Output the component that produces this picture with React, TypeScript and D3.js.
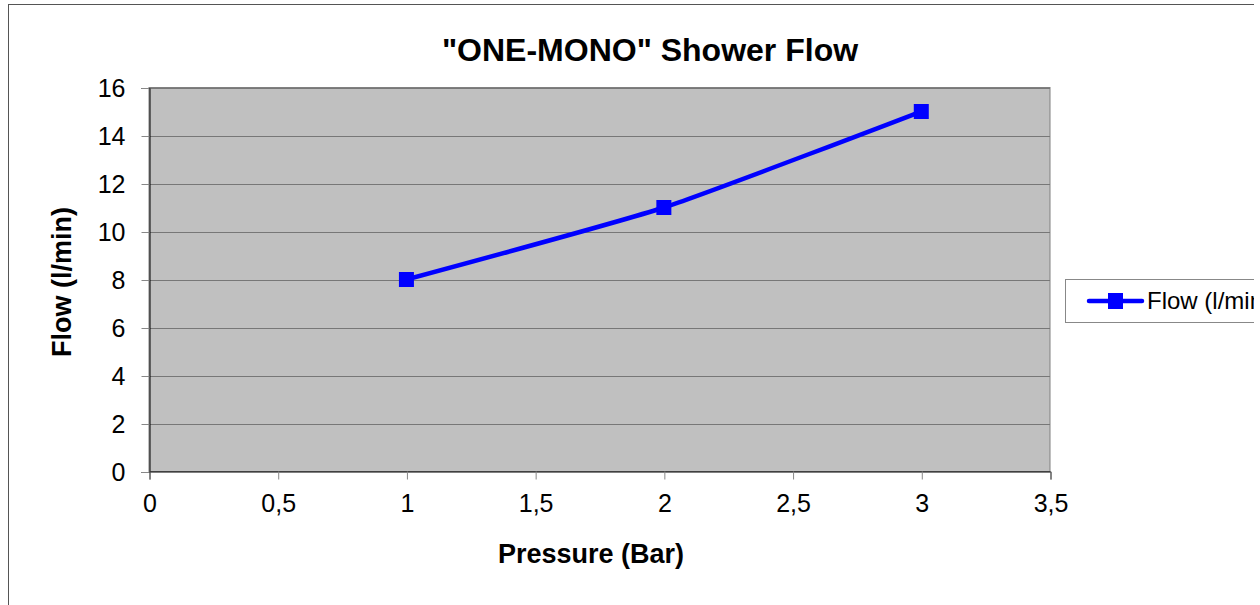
import React, { useEffect, useRef } from 'react';
import * as d3 from 'd3';

const pressure = [1, 2, 3];
const flow = [8, 11, 15];
const xTicks = [0, 0.5, 1, 1.5, 2, 2.5, 3, 3.5];
const yTicks = [0, 2, 4, 6, 8, 10, 12, 14, 16];
const seriesName = 'Flow (l/min)';

function App() {
  const graphRef = useRef<SVGSVGElement>(null);

  function drawChart() {
    const root = d3.select(graphRef.current);
    root.selectAll('*').remove();

    const width = 1260;
    const height = 605;
    const visibleWidth = 1254; // the original picture is cropped here
    const left = 149, right = 1050, top = 87.5, bottom = 471.5;
    const font = 'Liberation Sans, Arial, sans-serif';

    root.append('defs').append('clipPath').attr('id', 'crop')
      .append('rect').attr('x', 0).attr('y', 0)
      .attr('width', visibleWidth).attr('height', height);

    const svg = root.append('g').attr('clip-path', 'url(#crop)');

    // outer chart border (runs off the right and bottom)
    svg.append('rect')
      .attr('x', 8.5).attr('y', 4.5)
      .attr('width', width).attr('height', height)
      .attr('fill', '#fff').attr('stroke', '#555');

    const x = d3.scaleLinear().domain([0, 3.5]).range([left, right]);
    const y = d3.scaleLinear().domain([0, 16]).range([bottom, top]);

    // plot area
    svg.append('rect')
      .attr('x', left).attr('y', top)
      .attr('width', right - left).attr('height', bottom - top)
      .attr('fill', '#c0c0c0')
      .attr('stroke', '#808080');

    // grid lines
    svg.append('g')
      .selectAll('line')
      .data(yTicks.slice(1))
      .enter()
      .append('line')
        .attr('x1', left).attr('x2', right)
        .attr('y1', d => Math.round(y(d)) + 0.5).attr('y2', d => Math.round(y(d)) + 0.5)
        .attr('stroke', '#777').attr('stroke-width', 1);

    // y axis
    const yAxis = svg.append('g')
      .attr('transform', 'translate(' + (left + 0.5) + ',0.5)')
      .call(d3.axisLeft(y).tickValues(yTicks).tickSize(8).tickPadding(16).tickFormat(d => String(d)));
    yAxis.select('.domain').attr('stroke', '#000');
    yAxis.selectAll('.tick line').attr('stroke', '#888');
    yAxis.selectAll('.tick text')
      .attr('font-family', font).attr('font-size', 25).attr('fill', '#000');
    yAxis.selectAll('.tick').attr('transform', (d: any) => 'translate(0,' + Math.round(y(d)) + ')');

    // x axis
    const xAxis = svg.append('g')
      .attr('transform', 'translate(0.5,' + bottom + ')')
      .call(d3.axisBottom(x).tickValues(xTicks).tickSize(8).tickPadding(15)
        .tickFormat(d => String(d).replace('.', ',')));
    xAxis.select('.domain').attr('stroke', '#000');
    xAxis.selectAll('.tick line').attr('stroke', '#888');
    xAxis.selectAll('.tick text')
      .attr('font-family', font).attr('font-size', 25).attr('fill', '#000');

    // series line (smoothed, like the spreadsheet chart)
    const points = pressure.map((p, i) => [x(p), y(flow[i])] as [number, number]);
    const line = d3.line().curve(d3.curveCardinal.tension(0.5));
    svg.append('path')
      .attr('d', line(points))
      .attr('fill', 'none')
      .attr('stroke', '#0000ff')
      .attr('stroke-width', 4.5);

    svg.append('g')
      .selectAll('rect')
      .data(points)
      .enter()
      .append('rect')
        .attr('x', d => d[0] - 7.5).attr('y', d => d[1] - 7.5)
        .attr('width', 15).attr('height', 15)
        .attr('fill', '#0000ff');

    // titles
    svg.append('text')
      .attr('x', 650).attr('y', 61)
      .attr('text-anchor', 'middle')
      .attr('font-family', font).attr('font-weight', 'bold').attr('font-size', 32)
      .text('"ONE-MONO" Shower Flow');

    svg.append('text')
      .attr('x', 591).attr('y', 563)
      .attr('text-anchor', 'middle')
      .attr('font-family', font).attr('font-weight', 'bold').attr('font-size', 27)
      .text('Pressure (Bar)');

    svg.append('text')
      .attr('transform', 'translate(71,282) rotate(-90)')
      .attr('text-anchor', 'middle')
      .attr('font-family', font).attr('font-weight', 'bold').attr('font-size', 27)
      .text('Flow (l/min)');

    // legend
    const legend = svg.append('g');
    legend.append('rect')
      .attr('x', 1065.5).attr('y', 279.5)
      .attr('width', 300).attr('height', 43)
      .attr('fill', '#fff').attr('stroke', '#888');
    legend.append('line')
      .attr('x1', 1089).attr('x2', 1142).attr('y1', 301).attr('y2', 301)
      .attr('stroke', '#0000ff').attr('stroke-width', 4.5).attr('stroke-linecap', 'round');
    legend.append('rect')
      .attr('x', 1108).attr('y', 293).attr('width', 15).attr('height', 16)
      .attr('fill', '#0000ff');
    legend.append('text')
      .attr('x', 1147).attr('y', 309)
      .attr('font-family', font).attr('font-size', 24)
      .text(seriesName);
  }

  useEffect(() => {
    drawChart();
  }, []);

  return (
    <svg ref={graphRef} width={1260} height={605}
      style={{ position: 'absolute', left: 0, top: 0, display: 'block' }} />
  );
}

export default App;
